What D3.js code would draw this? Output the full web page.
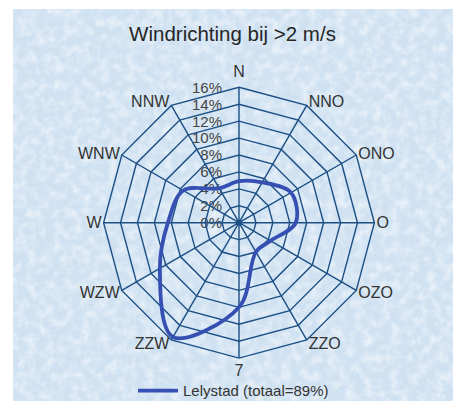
<!DOCTYPE html>
<html>
<head>
<meta charset="utf-8">
<script src="https://cdn.jsdelivr.net/npm/d3@7"></script>
<style>
  html, body { margin: 0; padding: 0; background: #fff; }
  svg { display: block; font-family: "Liberation Sans", Arial, sans-serif; }
</style>
</head>
<body>
<svg id="chart"></svg>
<script>
const width = 453;
const height = 401;

// wind directions (clockwise from north) and share in %
const directions = ["N", "NNO", "ONO", "O", "OZO", "ZZO", "7", "ZZW", "WZW", "W", "WNW", "NNW"];
const lelystad = [4.9, 5.5, 7.1, 6.7, 4.3, 4.0, 10.0, 15.6, 10.8, 8.4, 7.6, 4.7];
const ticks = [0, 2, 4, 6, 8, 10, 12, 14, 16];
const title = "Windrichting bij >2 m/s";
const seriesName = "Lelystad (totaal=89%)";

const cx = 239, cy = 222.7;
const R = 135.4;

const gridColor = "#1c4f85";
const lineColor = "#3550b2";

const svg = d3.select("#chart")
  .attr("width", width)
  .attr("height", height);

// textured light-blue panel
const defs = svg.append("defs");
const filt = defs.append("filter").attr("id", "mottle")
  .attr("x", 0).attr("y", 0).attr("width", "100%").attr("height", "100%");
filt.append("feTurbulence")
  .attr("type", "fractalNoise")
  .attr("baseFrequency", 0.11)
  .attr("numOctaves", 3)
  .attr("seed", 7)
  .attr("result", "noise");
filt.append("feColorMatrix")
  .attr("in", "noise")
  .attr("type", "matrix")
  .attr("values", "0 0 0 0 1  0 0 0 0 1  0 0 0 0 1  0 0 0 1.1 -0.45")
  .attr("result", "spots");
filt.append("feComposite").attr("in", "spots").attr("in2", "SourceGraphic").attr("operator", "over");

svg.append("rect")
  .attr("x", 13).attr("y", 9)
  .attr("width", width - 13).attr("height", height - 9)
  .attr("fill", "#d0e2f2")
  .attr("filter", "url(#mottle)");

svg.append("text")
  .attr("x", 232.5).attr("y", 41)
  .attr("text-anchor", "middle")
  .attr("font-size", 20.5)
  .attr("fill", "#262626")
  .text(title);

const r = d3.scaleLinear().domain([0, 16]).range([0, R]);
const angle = d3.scalePoint().domain(directions).range([0, 2 * Math.PI * (directions.length - 1) / directions.length]);

const pt = (dir, v) => {
  const a = angle(dir);
  return [cx + r(v) * Math.sin(a), cy - r(v) * Math.cos(a)];
};

const g = svg.append("g");

// tick labels (drawn under the grid)
g.append("g").selectAll("text")
  .data(ticks)
  .join("text")
  .attr("x", cx - 17)
  .attr("y", d => cy - r(d))
  .attr("dy", "0.36em")
  .attr("text-anchor", "end")
  .attr("font-size", 15)
  .attr("fill", "#444")
  .text(d => d + "%");

// rings
g.append("g").selectAll("path")
  .data(ticks.slice(1))
  .join("path")
  .attr("d", t => d3.line()(directions.map(dir => pt(dir, t))) + "Z")
  .attr("fill", "none")
  .attr("stroke", gridColor)
  .attr("stroke-width", 1.4);

// spokes
g.append("g").selectAll("line")
  .data(directions)
  .join("line")
  .attr("x1", cx).attr("y1", cy)
  .attr("x2", d => pt(d, 16)[0])
  .attr("y2", d => pt(d, 16)[1])
  .attr("stroke", gridColor)
  .attr("stroke-width", 1.4);

g.append("circle")
  .attr("cx", cx).attr("cy", cy).attr("r", 3)
  .attr("fill", gridColor);

// direction labels
g.append("g").selectAll("text")
  .data(directions)
  .join("text")
  .each(function (d) {
    const a = angle(d);
    const [x, y] = pt(d, 16);
    const s = Math.sin(a), c = Math.cos(a);
    let anchor = "middle", dx = 0, dy;
    if (s > 0.01) { anchor = "start"; dx = 2; }
    else if (s < -0.01) { anchor = "end"; dx = -2; }
    if (c > 0.95) dy = -10;
    else if (c < -0.95) dy = 18;
    else dy = 5.5 - 4 * c;
    d3.select(this)
      .attr("x", x + dx)
      .attr("y", y + dy)
      .attr("text-anchor", anchor);
  })
  .attr("font-size", 16)
  .attr("fill", "#333")
  .text(d => d);

// wind series
g.append("path")
  .datum(directions.map((d, i) => pt(d, lelystad[i])))
  .attr("d", d3.line().curve(d3.curveCatmullRomClosed.alpha(0.5)))
  .attr("fill", "none")
  .attr("stroke", lineColor)
  .attr("stroke-width", 3.8)
  .attr("stroke-linejoin", "round");

// legend
const leg = svg.append("g").attr("transform", "translate(138, 390.7)");
leg.append("line")
  .attr("x1", 0).attr("x2", 40)
  .attr("stroke", lineColor)
  .attr("stroke-width", 3.8);
leg.append("text")
  .attr("x", 45).attr("y", 0)
  .attr("dy", "0.36em")
  .attr("font-size", 15)
  .attr("fill", "#333")
  .text(seriesName);
</script>
</body>
</html>
